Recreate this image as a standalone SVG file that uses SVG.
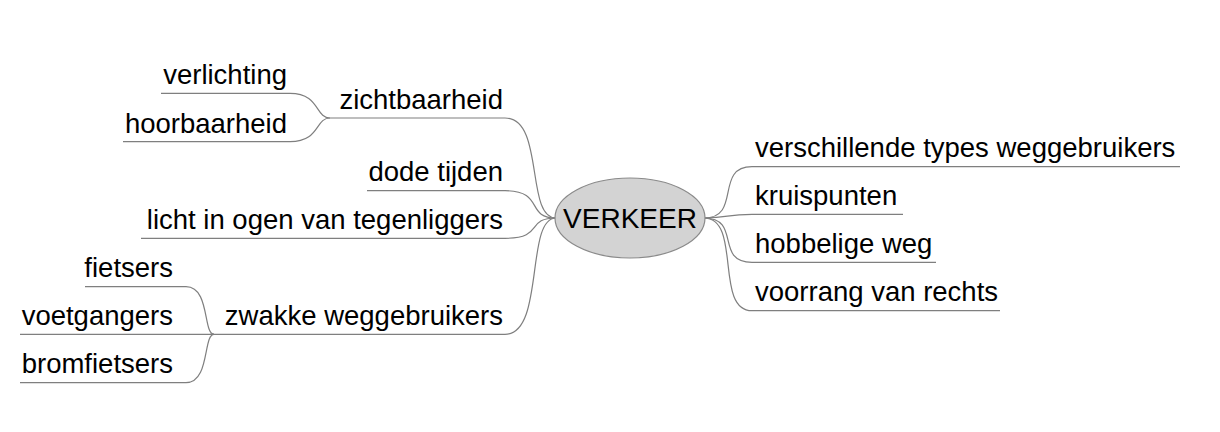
<svg xmlns="http://www.w3.org/2000/svg" width="1220" height="432" viewBox="0 0 1220 432">
<style>
.t{font-family:"Liberation Sans",Arial,sans-serif;font-size:27.5px;fill:#000}
.l{text-anchor:end}
.c{fill:none;stroke:#7f7f7f;stroke-width:1.2}
</style>
<rect width="1220" height="432" fill="#fff"/>
<g id="connectors">
<path class="c" d="M330,118 H505 C545,118 525,218 556,218"/>
<path class="c" d="M367,190.7 H505 C545,190.7 525,218 556,218"/>
<path class="c" d="M141,238.3 H505 C545,238.3 525,218 556,218"/>
<path class="c" d="M210,334.3 H505 C545,334.3 525,218 556,218"/>
<path class="c" d="M330,118 C315,118 320,93.3 290,93.3 H161"/>
<path class="c" d="M330,118 C315,118 320,141.7 290,141.7 H123"/>
<path class="c" d="M214,334.3 C203,334.3 210,286.7 186,286.7 H85"/>
<path class="c" d="M20,334.3 H214"/>
<path class="c" d="M214,334.3 C203,334.3 210,382.7 186,382.7 H20"/>
<path class="c" d="M704,218 C742,218 714,166.7 752,166.7 H1180"/>
<path class="c" d="M704,218 C730,218 725,214.3 752,214.3 H903"/>
<path class="c" d="M704,218 C742,218 714,262.3 752,262.3 H936"/>
<path class="c" d="M704,218 C742,218 714,310.7 752,310.7 H1000"/>
</g>
<g id="verkeer">
<ellipse cx="630" cy="218" rx="75" ry="40" fill="#d3d3d3" stroke="#8a8a8a" stroke-width="1.2"/>
<text class="t" x="630" y="228" font-size="28" text-anchor="middle" style="font-size:28px">VERKEER</text>
</g>
<g id="zichtbaarheid"><text class="t l" x="503" y="108.5">zichtbaarheid</text></g>
<g id="verlichting"><text class="t l" x="287" y="84">verlichting</text></g>
<g id="hoorbaarheid"><text class="t l" x="287" y="132.5">hoorbaarheid</text></g>
<g id="dode-tijden"><text class="t l" x="503" y="181">dode tijden</text></g>
<g id="licht"><text class="t l" x="503" y="228.5">licht in ogen van tegenliggers</text></g>
<g id="zwakke"><text class="t l" x="503" y="324.5">zwakke weggebruikers</text></g>
<g id="fietsers"><text class="t l" x="173" y="277">fietsers</text></g>
<g id="voetgangers"><text class="t l" x="173" y="324.5">voetgangers</text></g>
<g id="bromfietsers"><text class="t l" x="173" y="373">bromfietsers</text></g>
<g id="types"><text class="t" x="755" y="157">verschillende types weggebruikers</text></g>
<g id="kruispunten"><text class="t" x="755" y="205">kruispunten</text></g>
<g id="hobbelige"><text class="t" x="755" y="253">hobbelige weg</text></g>
<g id="voorrang"><text class="t" x="755" y="301">voorrang van rechts</text></g>
</svg>
